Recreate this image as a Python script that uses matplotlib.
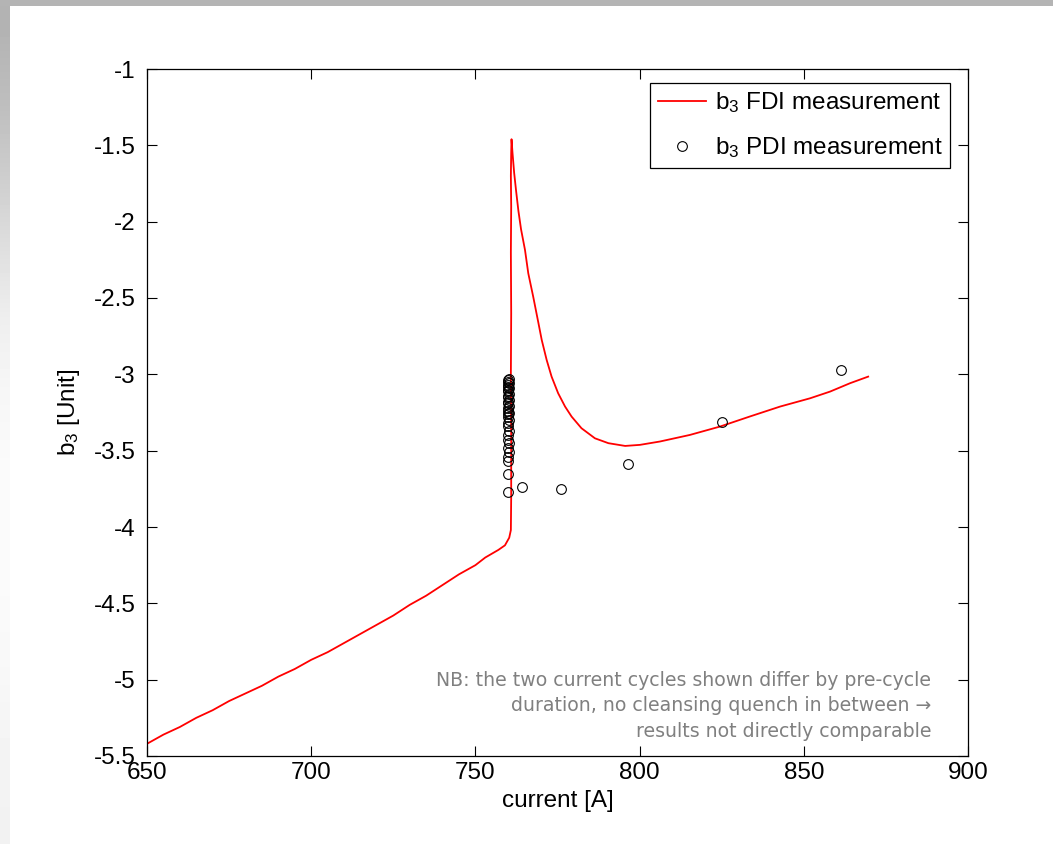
import numpy as np
import matplotlib
matplotlib.use("Agg")
import matplotlib.pyplot as plt
from matplotlib.patches import Rectangle

plt.rcParams['font.family'] = ['Liberation Sans', 'DejaVu Sans']
plt.rcParams['mathtext.default'] = 'regular'
plt.rcParams['axes.unicode_minus'] = False

# FDI measurement (continuous red curve)
fdi_current = [650, 655, 660, 665, 670, 675, 680, 685, 690, 695, 700, 705, 710, 715,
               720, 725, 730, 735, 740, 745, 750,
               753, 755.4, 757, 759, 760.3, 760.8, 760.9, 760.9, 760.8, 760.9,
               760.8, 760.9, 760.8, 760.9, 761.0,
               761.3, 761.8, 762.4, 763.1, 763.9, 765.1, 766.1, 767.6, 769.2,
               770.2, 771.7, 773.2, 775.2, 777.3, 779.3, 782.3, 786.4, 790.5,
               795.6, 800.1, 806.2, 815.3, 824.5, 833.6, 842.8, 851.9, 858.0,
               864.1, 869.6]
fdi_b3 = [-5.42, -5.36, -5.31, -5.25, -5.20, -5.14, -5.09, -5.04, -4.98, -4.93,
          -4.87, -4.82, -4.76, -4.70, -4.64, -4.58, -4.51, -4.45, -4.38, -4.31, -4.25,
          -4.20, -4.17, -4.15, -4.12, -4.07, -4.02, -3.80, -3.40,
          -3.00, -2.60, -2.20, -1.90, -1.70, -1.55, -1.46,
          -1.55, -1.68, -1.80, -1.93, -2.05, -2.185, -2.338, -2.491, -2.665,
          -2.775, -2.906, -3.015, -3.124, -3.211, -3.277, -3.353, -3.419, -3.451,
          -3.469, -3.462, -3.44, -3.397, -3.342, -3.276, -3.211, -3.157, -3.113,
          -3.058, -3.015]

# PDI measurement (open circles)
pdi_current = [759.9, 759.9, 760.0, 759.8, 760.1, 759.9, 760.2, 759.8, 760.0, 760.1,
               759.9, 760.0, 760.1, 759.9, 760.0, 760.2, 759.9, 760.0, 760.1, 759.9,
               760.0, 760.1, 759.9, 760.0, 760.1, 760.0, 759.9, 760.1, 760.0, 760.0,
               760.1, 759.9, 760.0, 760.1,
               764.1, 776.1, 796.5, 825.0, 861.3]
pdi_b3 = [-3.77, -3.65, -3.57, -3.54, -3.51, -3.48, -3.45, -3.43, -3.40, -3.37,
          -3.34, -3.32, -3.30, -3.28, -3.26, -3.25, -3.24, -3.22, -3.21, -3.19,
          -3.18, -3.17, -3.15, -3.14, -3.13, -3.11, -3.10, -3.09, -3.08, -3.07,
          -3.06, -3.05, -3.04, -3.03,
          -3.74, -3.75, -3.59, -3.314, -2.971]

x_ticks = [650, 700, 750, 800, 850, 900]
y_ticks = [-5.5, -5, -4.5, -4, -3.5, -3, -2.5, -2, -1.5, -1]
y_tick_labels = ['-5.5', '-5', '-4.5', '-4', '-3.5', '-3', '-2.5', '-2', '-1.5', '-1']

fig = plt.figure(figsize=(10.53, 8.44), dpi=100)
fig.patch.set_facecolor('white')

# slide decoration: left gradient strip and top bar
gax = fig.add_axes([0, 0, 10 / 1053, 1])
grad_vals = [180, 190, 205, 222, 238, 246, 250, 251, 250, 248, 244, 242]
grad = np.array(grad_vals, dtype=float).reshape(-1, 1) / 255.0
gax.imshow(grad, aspect='auto', cmap='gray', vmin=0, vmax=1,
           extent=[0, 1, 0, 1], origin='upper', interpolation='bilinear')
gax.axis('off')
fig.patches.append(Rectangle((0, 1 - 6 / 844), 1, 6 / 844, transform=fig.transFigure,
                             facecolor='#b4b4b4', edgecolor='none', zorder=0))

ax = fig.add_axes([147 / 1053, 1 - 756 / 844, 821 / 1053, 687 / 844])
ax.plot(fdi_current, fdi_b3, color='red', lw=1.3, label=r'$b_3$ FDI measurement')
ax.plot(pdi_current, pdi_b3, linestyle='none', marker='o', markersize=7,
        markerfacecolor='none', markeredgecolor='black', markeredgewidth=0.8,
        label=r'$b_3$ PDI measurement')

ax.set_xlim(650, 900)
ax.set_ylim(-5.5, -1)
ax.set_xticks(x_ticks)
ax.set_xticklabels([str(t) for t in x_ticks])
ax.set_yticks(y_ticks)
ax.set_yticklabels(y_tick_labels)
ax.tick_params(direction='in', top=True, right=True, length=7, width=0.8,
               labelsize=17.5)
ax.tick_params(axis='x', pad=4)
ax.tick_params(axis='y', pad=8)
for s in ax.spines.values():
    s.set_linewidth(0.9)

ax.set_xlabel('current [A]', fontsize=17.5, labelpad=5)
ax.set_ylabel(r'$b_3$ [Unit]', fontsize=17.5, labelpad=9)

leg = ax.legend(loc='upper right', bbox_to_anchor=(0.978, 0.98), fontsize=17.5,
                frameon=True, fancybox=False, edgecolor='black', framealpha=1,
                handlelength=2.0, handletextpad=0.35, borderpad=0.3, labelspacing=0.85,
                borderaxespad=0.0)
leg.get_frame().set_linewidth(0.9)

ax.text(0.955, 0.0728,
        'NB: the two current cycles shown differ by pre-cycle\n'
        'duration, no cleansing quench in between \u2192\n'
        'results not directly comparable',
        transform=ax.transAxes, ha='right', va='center', multialignment='right',
        fontsize=13.6, color='#808080', family=['DejaVu Sans'], linespacing=1.45)

fig.savefig('out.png', dpi=100)
